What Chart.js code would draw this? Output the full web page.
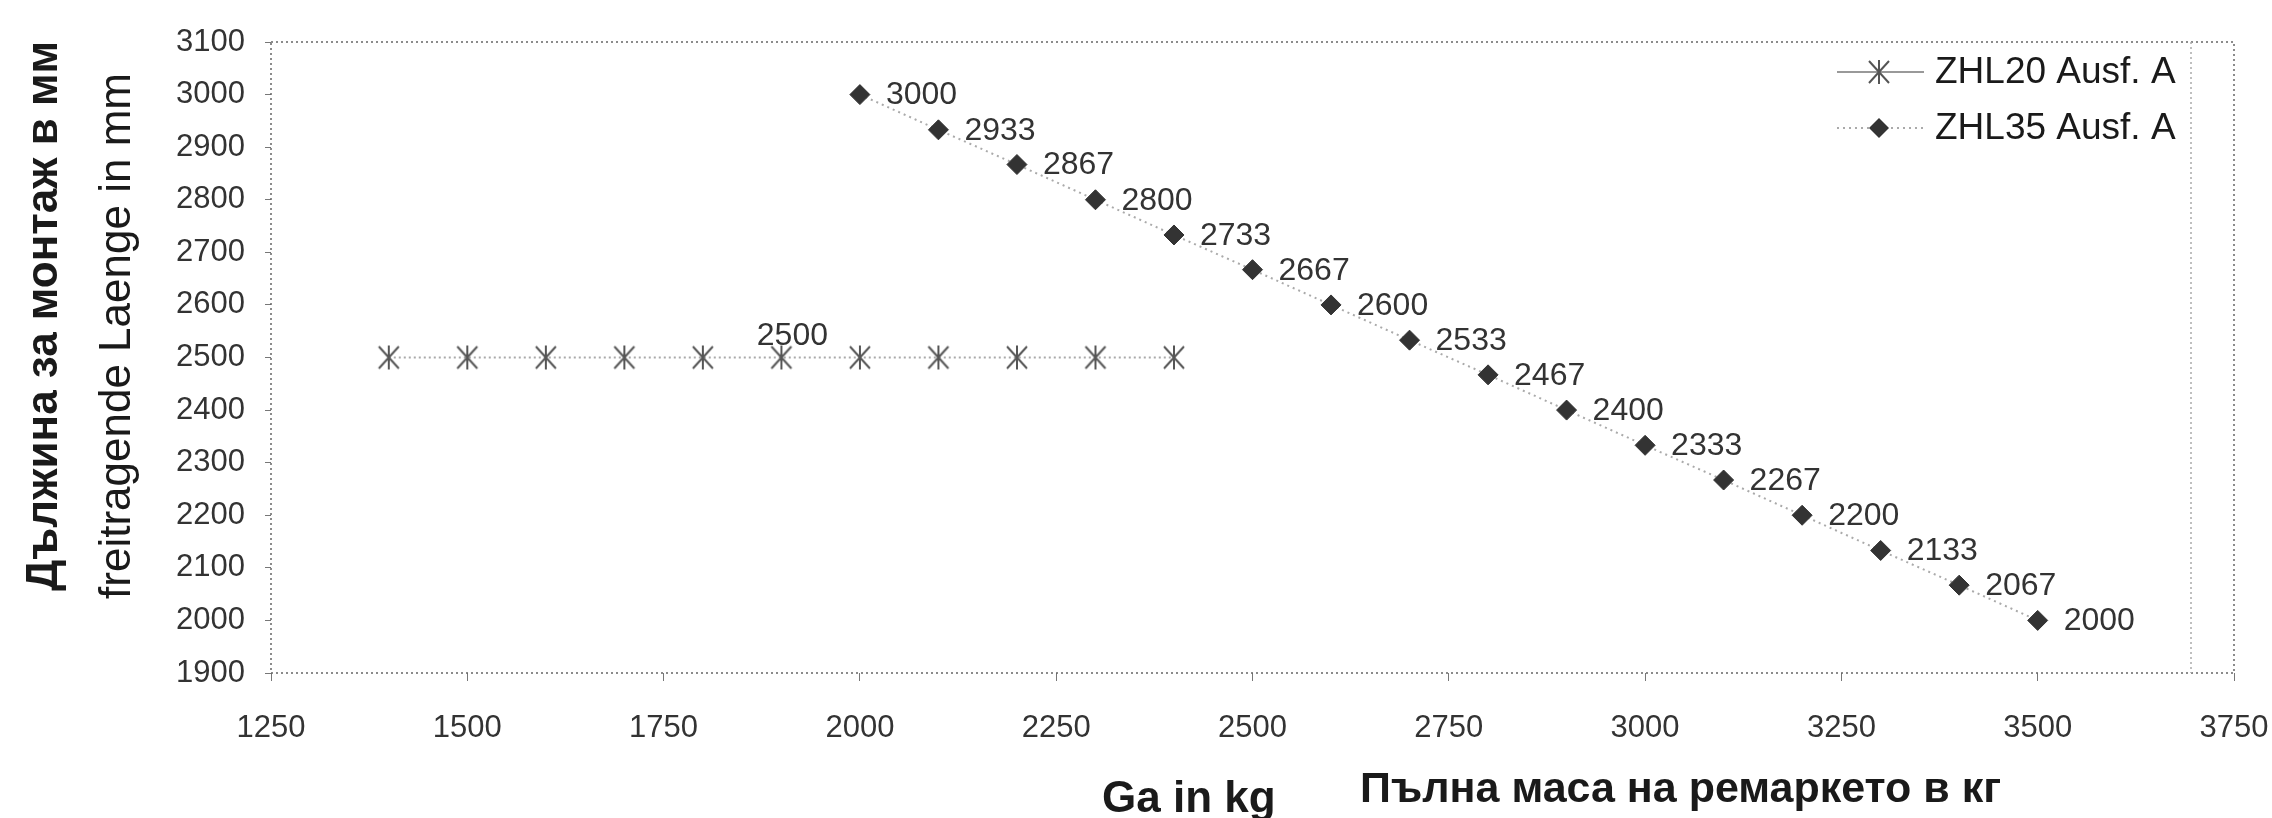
<!DOCTYPE html>
<html>
<head>
<meta charset="utf-8">
<script src="https://cdn.jsdelivr.net/npm/chart.js@4.4.0/dist/chart.umd.min.js"></script>
<style>
  html, body { margin: 0; padding: 0; background: #fff; }
  #wrap { width: 2272px; height: 818px; }
</style>
</head>
<body>
<div id="wrap"><canvas id="chart" width="2272" height="818"></canvas></div>
<script>
// ---- data ----
const seriesNames = ["ZHL20 Ausf. A", "ZHL35 Ausf. A"];

const zhl20Mass = [1400, 1500, 1600, 1700, 1800, 1900, 2000, 2100, 2200, 2300, 2400];
const zhl20Length = [2500, 2500, 2500, 2500, 2500, 2500, 2500, 2500, 2500, 2500, 2500];

const zhl35Mass = [2000, 2100, 2200, 2300, 2400, 2500, 2600, 2700, 2800, 2900, 3000, 3100, 3200, 3300, 3400, 3500];
const zhl35Length = [3000, 2933, 2867, 2800, 2733, 2667, 2600, 2533, 2467, 2400, 2333, 2267, 2200, 2133, 2067, 2000];

const xTickValues = [1250, 1500, 1750, 2000, 2250, 2500, 2750, 3000, 3250, 3500, 3750];
const yTickValues = [1900, 2000, 2100, 2200, 2300, 2400, 2500, 2600, 2700, 2800, 2900, 3000, 3100];

const yTitleBg = "Дължина за монтаж в мм";
const yTitleDe = "freitragende Laenge in mm";
const xTitleDe = "Ga in kg";
const xTitleBg = "Пълна маса на ремаркето в кг";

const FONT = "'Liberation Sans', Arial, sans-serif";

// asterisk marker like the old Excel one
function makeStar() {
    const c = document.createElement("canvas");
    c.width = 28; c.height = 28;
    const g = c.getContext("2d");
    g.strokeStyle = "#555";
    g.lineWidth = 2;
    g.beginPath();
    g.moveTo(4, 3); g.lineTo(24, 25);
    g.moveTo(24, 3); g.lineTo(4, 25);
    g.moveTo(14, 2); g.lineTo(14, 26);
    g.stroke();
    return c;
}
const starImg = makeStar();

const toPoints = (xs, ys) => xs.map((x, i) => ({ x: x, y: ys[i] }));

// dashed frame round the plot
const framePlugin = {
    id: "frame",
    beforeDatasetsDraw(chart) {
        const { ctx, chartArea: a } = chart;
        ctx.save();
        ctx.strokeStyle = "#666";
        ctx.lineWidth = 1.5;
        ctx.setLineDash([2, 3]);
        ctx.strokeRect(a.left, a.top, a.right - a.left, a.bottom - a.top);
        ctx.strokeStyle = "#aaa";
        ctx.beginPath();
        ctx.moveTo(a.right - 43, a.top);
        ctx.lineTo(a.right - 43, a.bottom);
        ctx.stroke();
        ctx.restore();
    },
};

// value labels next to the points
const valueLabels = {
    id: "valueLabels",
    afterDatasetsDraw(chart) {
        const ctx = chart.ctx;
        ctx.save();
        ctx.fillStyle = "#333";
        ctx.font = "32px " + FONT;
        ctx.textBaseline = "middle";

        // ZHL20: only one label, above the 1900 point
        const m0 = chart.getDatasetMeta(0);
        const p = m0.data[5];
        ctx.textAlign = "center";
        ctx.fillText(String(zhl20Length[5]), p.x + 11, p.y - 21);

        // ZHL35: every point, to the right
        const m1 = chart.getDatasetMeta(1);
        ctx.textAlign = "left";
        m1.data.forEach((pt, i) => {
            ctx.fillText(String(zhl35Length[i]), pt.x + 26, pt.y + 1);
        });
        ctx.restore();
    },
};

// axis titles and legend
const titlesPlugin = {
    id: "titles",
    afterDraw(chart) {
        const ctx = chart.ctx;
        ctx.save();
        ctx.fillStyle = "#1a1a1a";
        ctx.textAlign = "center";
        ctx.textBaseline = "middle";

        ctx.save();
        ctx.translate(45, 316);
        ctx.rotate(-Math.PI / 2);
        ctx.font = "bold 44px " + FONT;
        ctx.fillText(yTitleBg, 0, 0);
        ctx.restore();

        ctx.save();
        ctx.translate(118, 336);
        ctx.rotate(-Math.PI / 2);
        ctx.font = "44px " + FONT;
        ctx.fillText(yTitleDe, 0, 0);
        ctx.restore();

        ctx.textAlign = "left";
        ctx.textBaseline = "alphabetic";
        ctx.font = "bold 44px " + FONT;
        ctx.fillText(xTitleDe, 1102, 812);
        ctx.font = "bold 43px " + FONT;
        ctx.fillText(xTitleBg, 1360, 802);

        // legend
        const rows = [72, 128];
        chart.data.datasets.forEach((ds, i) => {
            const y = rows[i];
            ctx.strokeStyle = i === 0 ? "#999" : ds.borderColor;
            ctx.lineWidth = ds.borderWidth;
            ctx.setLineDash(i === 0 ? [] : ds.borderDash);
            ctx.beginPath();
            ctx.moveTo(1837, y);
            ctx.lineTo(1924, y);
            ctx.stroke();
            ctx.setLineDash([]);
            if (i === 0) {
                ctx.drawImage(starImg, 1879 - 14, y - 14);
            } else {
                ctx.fillStyle = "#333";
                ctx.beginPath();
                ctx.moveTo(1879, y - 10);
                ctx.lineTo(1889, y);
                ctx.lineTo(1879, y + 10);
                ctx.lineTo(1869, y);
                ctx.closePath();
                ctx.fill();
            }
            ctx.fillStyle = "#1a1a1a";
            ctx.font = "37px " + FONT;
            ctx.textBaseline = "middle";
            ctx.fillText(seriesNames[i], 1935, y + 1);
        });
        ctx.restore();
    },
};

const ctx = document.getElementById("chart").getContext("2d");

new Chart(ctx, {
    type: "scatter",
    data: {
        datasets: [
            {
                label: seriesNames[0],
                data: toPoints(zhl20Mass, zhl20Length),
                showLine: true,
                borderColor: "#aaa",
                borderWidth: 2,
                borderDash: [2, 3],
                pointStyle: starImg,
                pointRadius: 12,
            },
            {
                label: seriesNames[1],
                data: toPoints(zhl35Mass, zhl35Length),
                showLine: true,
                borderColor: "#aaa",
                borderWidth: 2,
                borderDash: [2, 4],
                pointStyle: "rectRot",
                pointRadius: 10,
                pointBackgroundColor: "#333",
                pointBorderColor: "#333",
                pointBorderWidth: 1,
            },
        ],
    },
    options: {
        responsive: false,
        animation: false,
        devicePixelRatio: 1,
        layout: { padding: { top: 42, right: 38, left: 0, bottom: 0 } },
        plugins: {
            legend: { display: false },
            tooltip: { enabled: false },
        },
        scales: {
            x: {
                type: "linear",
                min: 1250,
                max: 3750,
                afterBuildTicks: (s) => { s.ticks = xTickValues.map((v) => ({ value: v })); },
                afterFit: (s) => {
                    s.height = 145;
                    s.paddingLeft = 0;
                    s.paddingRight = 0;
                },
                grid: { drawOnChartArea: false, drawTicks: true, tickLength: 8, tickColor: "#777" },
                border: { display: false },
                ticks: {
                    color: "#333",
                    font: { family: FONT, size: 31 },
                    padding: 29,
                    maxRotation: 0,
                    callback: (v) => String(v),
                },
            },
            y: {
                type: "linear",
                min: 1900,
                max: 3100,
                afterBuildTicks: (s) => { s.ticks = yTickValues.map((v) => ({ value: v })); },
                afterFit: (s) => {
                    s.width = 271;
                    s.paddingTop = 0;
                    s.paddingBottom = 0;
                },
                grid: { drawOnChartArea: false, drawTicks: true, tickLength: 6, tickColor: "#777" },
                border: { display: false },
                ticks: {
                    color: "#333",
                    font: { family: FONT, size: 31 },
                    padding: 20,
                    callback: (v) => String(v),
                },
            },
        },
    },
    plugins: [framePlugin, valueLabels, titlesPlugin],
});
</script>
</body>
</html>
